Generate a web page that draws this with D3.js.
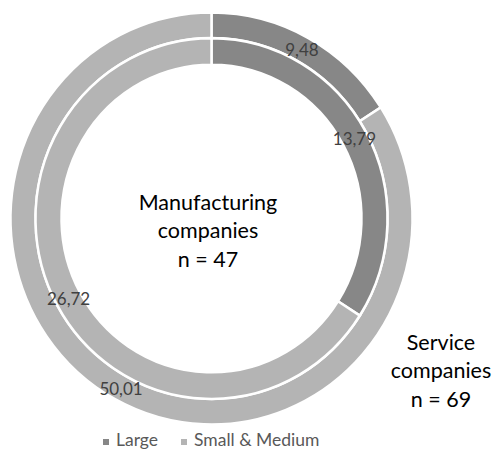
<!DOCTYPE html>
<html><head><meta charset="utf-8">
<script src="https://cdn.jsdelivr.net/npm/d3@7"></script>
<style>
html,body{margin:0;padding:0;background:#fff;}
svg{display:block;font-family:Lato,"Open Sans",sans-serif;}
</style></head>
<body><svg id="c" width="492" height="450"></svg>
<script>
const categories = ["Large", "Small & Medium"];
const serviceValues = [9.48, 50.01];        // outer ring
const manufacturingValues = [13.79, 26.72]; // inner ring
const valueLabels = { service: ["9,48", "50,01"], manufacturing: ["13,79", "26,72"] };
const centerLines = ["Manufacturing", "companies", "n = 47"];
const serviceLines = ["Service", "companies", "n = 69"];

const colors = d3.scaleOrdinal().domain(categories).range(["#878787", "#b4b4b4"]);
const svg = d3.select("#c");
const cx = 211.5, cy = 218.5, sy = 1.025;

const pie = d3.pie().sort(null).value(d => d.v);
const rings = [
  { key: "service", values: serviceValues, inner: 176, outer: 201 },
  { key: "manufacturing", values: manufacturingValues, inner: 150, outer: 176 }
];

const g = svg.append("g").attr("transform", `translate(${cx},${cy}) scale(1,${sy})`);
const lg = svg.append("g").attr("transform", `translate(${cx},${cy})`);

rings.forEach(r => {
  const data = pie(r.values.map((v, i) => ({ v, c: categories[i], lab: valueLabels[r.key][i] })));
  const arc = d3.arc().innerRadius(r.inner).outerRadius(r.outer);
  g.selectAll(null).data(data).enter().append("path")
    .attr("d", arc)
    .attr("fill", d => colors(d.data.c))
    .attr("stroke", "#fff")
    .attr("stroke-width", 2.5);
  lg.selectAll(null).data(data).enter().append("text")
    .attr("x", d => arc.centroid(d)[0])
    .attr("y", d => arc.centroid(d)[1] * sy)
    .attr("text-anchor", "middle")
    .attr("dominant-baseline", "central")
    .attr("font-size", 17)
    .attr("fill", "#404040")
    .text(d => d.data.lab);
});

const ct = svg.append("text").attr("text-anchor", "middle").attr("font-size", 21.5).attr("fill", "#000");
[210, 238, 267].forEach((y, i) => ct.append("tspan").attr("x", 208).attr("y", y).text(centerLines[i]));

const st = svg.append("text").attr("text-anchor", "middle").attr("font-size", 21.5).attr("fill", "#000");
[350, 378, 407].forEach((y, i) => st.append("tspan").attr("x", 441).attr("y", y).text(serviceLines[i]));

// legend
const legendX = [103, 181];
const leg = svg.append("g");
categories.forEach((c, i) => {
  leg.append("rect").attr("x", legendX[i]).attr("y", 439).attr("width", 6).attr("height", 6).attr("fill", colors(c));
  leg.append("text").attr("x", legendX[i] + 13).attr("y", 446).attr("font-size", 17.5)
    .attr("fill", "#595959").text(c);
});
</script></body></html>
